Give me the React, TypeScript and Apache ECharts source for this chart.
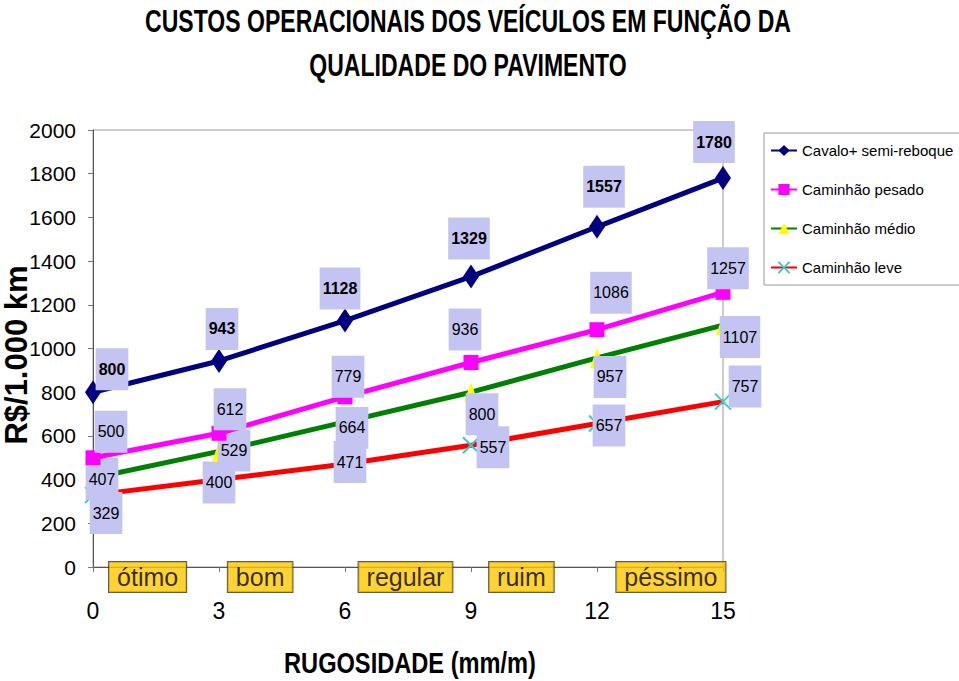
import React, { useEffect, useRef } from "react";
import * as echarts from "echarts";

const xValues = [0, 3, 6, 9, 12, 15];
const seriesNames = ["Cavalo+ semi-reboque", "Caminhão pesado", "Caminhão médio", "Caminhão leve"];
const cavalo = [800, 943, 1128, 1329, 1557, 1780];
const pesado = [500, 612, 779, 936, 1086, 1257];
const medio = [407, 529, 664, 800, 957, 1107];
const leve = [329, 400, 471, 557, 657, 757];
const zoneNames = ["ótimo", "bom", "regular", "ruim", "péssimo"];
const zoneCenters = [1.3, 3.98, 7.44, 10.2, 13.76];
const titleLines = ["CUSTOS OPERACIONAIS DOS VEÍCULOS EM FUNÇÃO DA", "QUALIDADE DO PAVIMENTO"];
const xAxisTitle = "RUGOSIDADE (mm/m)";
const yAxisTitle = "R$/1.000 km";

// label offsets (styling, pixels)
const offCavalo = [[19, -23], [3, -32], [-5, -32], [-2, -38], [7, -40], [-9, -36]];
const offPesado = [[18, -26], [11, -24], [3, -20], [-6, -33], [14, -37], [5, -24]];
const offMedio = [[9, 1], [15, -1], [7, 6], [11, 22], [13, 19], [17, 12]];
const offLeve = [[13, 18], [0, 3], [5, -2], [22, 2], [12, 2], [22, -15]];

const FONT = "'Liberation Sans Narrow', 'Arial Narrow', 'Liberation Sans', Arial, sans-serif";
const LABEL_BG = "#C4C4F2";

function buildSeries(name: string, vals: number[], offs: number[][], opts: any) {
  return {
    name,
    type: "line",
    data: vals.map((v, i) => ({
      value: [xValues[i], v],
      label: { offset: offs[i] },
    })),
    symbol: opts.symbol,
    symbolSize: opts.symbolSize,
    lineStyle: { color: opts.lineColor, width: 5 },
    itemStyle: opts.itemStyle,
    label: {
      show: true,
      position: "inside",
      align: "center",
      verticalAlign: "middle",
      fontFamily: FONT,
      fontSize: 16,
      fontWeight: opts.bold ? "bold" : "normal",
      color: "#000",
      backgroundColor: LABEL_BG,
      padding: [13, 3],
    },
    z: opts.z,
  };
}

export default function App() {
  const ref = useRef<HTMLDivElement>(null);
  useEffect(() => {
    document.body.style.margin = "0";
    const chart = echarts.init(ref.current!, null, { renderer: "svg" });
    const xPath = "path://M0,0L10,10M10,0L0,10";
    chart.setOption({
      animation: false,
      backgroundColor: "#fff",
      graphic: [
        {
          type: "text",
          x: 468,
          y: 21,
          scaleX: 0.72,
          style: {
            text: titleLines[0],
            x: 0,
            y: 0,
            align: "center",
            verticalAlign: "middle",
            fontFamily: FONT,
            fontSize: 32,
            fontWeight: "bold",
            fill: "#000",
          },
        },
        {
          type: "text",
          x: 468,
          y: 65,
          scaleX: 0.72,
          style: {
            text: titleLines[1],
            x: 0,
            y: 0,
            align: "center",
            verticalAlign: "middle",
            fontFamily: FONT,
            fontSize: 32,
            fontWeight: "bold",
            fill: "#000",
          },
        },
        {
          type: "text",
          x: 410,
          y: 663,
          scaleX: 0.815,
          style: {
            text: xAxisTitle,
            x: 0,
            y: 0,
            align: "center",
            verticalAlign: "middle",
            fontFamily: FONT,
            fontSize: 29,
            fontWeight: "bold",
            fill: "#000",
          },
        },
        {
          type: "text",
          x: 16,
          y: 355,
          rotation: Math.PI / 2,
          style: {
            text: yAxisTitle,
            x: 0,
            y: 0,
            align: "center",
            verticalAlign: "middle",
            fontFamily: FONT,
            fontSize: 31,
            fontWeight: "bold",
            fill: "#000",
          },
        },
      ],
      legend: {
        orient: "vertical",
        left: 764,
        top: 133,
        padding: [10, 10, 10, 6],
        itemWidth: 26,
        itemHeight: 14,
        itemGap: 24,
        borderColor: "#999",
        borderWidth: 1,
        data: seriesNames,
        textStyle: { fontFamily: FONT, fontSize: 15, color: "#000" },
      },
      grid: {
        left: 93,
        top: 130,
        width: 630,
        height: 437,
        outerBoundsMode: "none",
        containLabel: false,
        show: true,
        borderColor: "#999",
        borderWidth: 1,
        backgroundColor: "transparent",
      },
      xAxis: {
        type: "value",
        min: 0,
        max: 15,
        interval: 3,
        axisLine: { lineStyle: { color: "#555", width: 1 } },
        axisTick: { show: true, length: 5, lineStyle: { color: "#777" } },
        splitLine: { show: false },
        axisLabel: { margin: 32, fontFamily: FONT, fontSize: 23, color: "#000" },
      },
      yAxis: {
        type: "value",
        min: 0,
        max: 2000,
        interval: 200,
        axisLine: { show: true, lineStyle: { color: "#555", width: 1 } },
        axisTick: { show: true, length: 5, lineStyle: { color: "#777" } },
        splitLine: { show: false },
        axisLabel: {
          margin: 17,
          fontFamily: FONT,
          fontSize: 21,
          color: "#000",
          formatter: (v: number) => String(v),
        },
      },
      series: [
        buildSeries(seriesNames[3], leve, offLeve, {
          symbol: xPath,
          symbolSize: 16,
          lineColor: "#FF0000",
          itemStyle: { color: "#33CCCC", borderColor: "#33CCCC", borderWidth: 2 },
          z: 2,
        }),
        buildSeries(seriesNames[2], medio, offMedio, {
          symbol: "triangle",
          symbolSize: [14, 20],
          lineColor: "#008000",
          itemStyle: { color: "#FFFF00" },
          z: 3,
        }),
        buildSeries(seriesNames[1], pesado, offPesado, {
          symbol: "rect",
          symbolSize: 15,
          lineColor: "#FF00FF",
          itemStyle: { color: "#FF00FF" },
          z: 4,
        }),
        buildSeries(seriesNames[0], cavalo, offCavalo, {
          symbol: "diamond",
          symbolSize: [16, 24],
          lineColor: "#000080",
          itemStyle: { color: "#000080" },
          bold: true,
          z: 5,
        }),
        {
          name: "zones",
          type: "scatter",
          symbolSize: 0,
          data: zoneCenters.map((c, i) => ({ value: [c, 0], name: zoneNames[i] })),
          label: {
            show: true,
            position: "inside",
            offset: [0, 10],
            formatter: (p: any) => p.name,
            fontFamily: FONT,
            fontSize: 25,
            color: "#000",
            backgroundColor: "#FFC800",
            borderColor: "#333",
            borderWidth: 1,
            padding: [3, 8, 2, 8],
          },
          z: 6,
          silent: true,
        },
      ],
    });
    return () => chart.dispose();
  }, []);
  return <div ref={ref} style={{ width: 959, height: 681 }} />;
}
